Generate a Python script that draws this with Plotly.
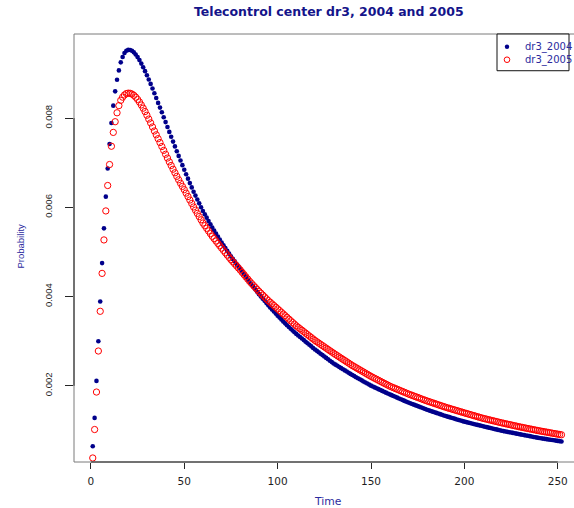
import plotly.graph_objects as go

# Time index (one point per unit of time)
time = list(range(1, 253))

# Probability per time unit, 2004
dr3_2004 = [
    0.000644, 0.00128, 0.00211, 0.00300, 0.00389, 0.00475, 0.00553, 0.00624, 0.00687, 0.00742,
    0.00789, 0.00828, 0.00860, 0.00886, 0.00907, 0.00925, 0.00937, 0.00946, 0.00951, 0.00953,
    0.009528, 0.009509, 0.009475, 0.009428, 0.009368, 0.009301, 0.009223, 0.009142, 0.009053, 0.008962,
    0.008865, 0.008768, 0.008664, 0.008559, 0.008450, 0.008341, 0.008236, 0.008131, 0.008021, 0.007911,
    0.007801, 0.007692, 0.007583, 0.007474, 0.007366, 0.007259, 0.007154, 0.007049, 0.006946, 0.006843,
    0.006743, 0.006643, 0.006544, 0.006447, 0.006351, 0.006264, 0.006177, 0.006090, 0.006004, 0.005917,
    0.005843, 0.005769, 0.005694, 0.005620, 0.005546, 0.005479, 0.005413, 0.005346, 0.005280, 0.005213,
    0.005151, 0.005088, 0.005026, 0.004963, 0.004901, 0.004845, 0.004789, 0.004732, 0.004676, 0.004620,
    0.004561, 0.004502, 0.004443, 0.004384, 0.004325, 0.004271, 0.004217, 0.004162, 0.004108, 0.004054,
    0.004004, 0.003954, 0.003904, 0.003854, 0.003804, 0.003758, 0.003712, 0.003665, 0.003619, 0.003573,
    0.003529, 0.003485, 0.003442, 0.003400, 0.003359, 0.003318, 0.003278, 0.003239, 0.003201, 0.003164,
    0.003129, 0.003094, 0.003059, 0.003024, 0.002989, 0.002954, 0.002919, 0.002884, 0.002849, 0.002814,
    0.002783, 0.002751, 0.002720, 0.002688, 0.002657, 0.002626, 0.002594, 0.002563, 0.002531, 0.002500,
    0.002474, 0.002448, 0.002422, 0.002396, 0.002371, 0.002345, 0.002319, 0.002293, 0.002267, 0.002241,
    0.002217, 0.002193, 0.002170, 0.002146, 0.002122, 0.002098, 0.002074, 0.002051, 0.002027, 0.002003,
    0.001984, 0.001964, 0.001945, 0.001925, 0.001906, 0.001886, 0.001867, 0.001847, 0.001828, 0.001808,
    0.001790, 0.001771, 0.001753, 0.001735, 0.001717, 0.001698, 0.001680, 0.001662, 0.001643, 0.001625,
    0.001609, 0.001593, 0.001577, 0.001561, 0.001545, 0.001528, 0.001512, 0.001496, 0.001480, 0.001464,
    0.001450, 0.001436, 0.001421, 0.001407, 0.001393, 0.001379, 0.001365, 0.001350, 0.001336, 0.001322,
    0.001309, 0.001297, 0.001284, 0.001272, 0.001259, 0.001246, 0.001234, 0.001221, 0.001209, 0.001196,
    0.001186, 0.001175, 0.001165, 0.001155, 0.001145, 0.001134, 0.001124, 0.001114, 0.001103, 0.001093,
    0.001083, 0.001073, 0.001063, 0.001053, 0.001043, 0.001033, 0.001023, 0.001013, 0.001003, 0.000993,
    0.000985, 0.000977, 0.000968, 0.000960, 0.000952, 0.000944, 0.000936, 0.000927, 0.000919, 0.000911,
    0.000903, 0.000895, 0.000887, 0.000879, 0.000871, 0.000862, 0.000854, 0.000846, 0.000838, 0.000830,
    0.000824, 0.000817, 0.000811, 0.000804, 0.000798, 0.000791, 0.000785, 0.000778, 0.000772, 0.000765,
    0.000759, 0.000753,
]

# Probability per time unit, 2005
dr3_2005 = [
    0.000382, 0.00102, 0.00186, 0.00278, 0.00367, 0.00452, 0.00527, 0.00592, 0.00649, 0.00696,
    0.00737, 0.00768, 0.00792, 0.00812, 0.00828, 0.00840, 0.00847, 0.00852, 0.00855, 0.00856,
    0.008557, 0.008540, 0.008511, 0.008470, 0.008420, 0.008361, 0.008295, 0.008223, 0.008147, 0.008065,
    0.007979, 0.007893, 0.007803, 0.007712, 0.007626, 0.007539, 0.007452, 0.007364, 0.007277, 0.007190,
    0.007105, 0.007020, 0.006938, 0.006855, 0.006775, 0.006695, 0.006618, 0.006540, 0.006469, 0.006397,
    0.006319, 0.006242, 0.006164, 0.006087, 0.006009, 0.005937, 0.005865, 0.005793, 0.005721, 0.005649,
    0.005590, 0.005530, 0.005471, 0.005411, 0.005352, 0.005299, 0.005246, 0.005192, 0.005139, 0.005086,
    0.005034, 0.004983, 0.004931, 0.004880, 0.004828, 0.004781, 0.004734, 0.004688, 0.004641, 0.004594,
    0.004543, 0.004493, 0.004442, 0.004392, 0.004341, 0.004296, 0.004251, 0.004207, 0.004162, 0.004117,
    0.004076, 0.004034, 0.003993, 0.003951, 0.003910, 0.003873, 0.003836, 0.003799, 0.003762, 0.003725,
    0.003687, 0.003649, 0.003611, 0.003573, 0.003535, 0.003496, 0.003458, 0.003420, 0.003382, 0.003344,
    0.003311, 0.003278, 0.003246, 0.003213, 0.003180, 0.003147, 0.003114, 0.003082, 0.003049, 0.003016,
    0.002987, 0.002959, 0.002930, 0.002901, 0.002873, 0.002844, 0.002815, 0.002786, 0.002758, 0.002729,
    0.002702, 0.002674, 0.002647, 0.002619, 0.002592, 0.002565, 0.002537, 0.002510, 0.002482, 0.002455,
    0.002431, 0.002406, 0.002382, 0.002357, 0.002333, 0.002309, 0.002284, 0.002260, 0.002235, 0.002211,
    0.002189, 0.002167, 0.002146, 0.002124, 0.002102, 0.002080, 0.002058, 0.002037, 0.002015, 0.001993,
    0.001975, 0.001958, 0.001940, 0.001923, 0.001905, 0.001887, 0.001870, 0.001852, 0.001835, 0.001817,
    0.001801, 0.001786, 0.001770, 0.001754, 0.001739, 0.001723, 0.001707, 0.001691, 0.001676, 0.001660,
    0.001646, 0.001632, 0.001618, 0.001604, 0.001590, 0.001575, 0.001561, 0.001547, 0.001533, 0.001519,
    0.001506, 0.001494, 0.001481, 0.001469, 0.001456, 0.001443, 0.001431, 0.001418, 0.001406, 0.001393,
    0.001381, 0.001369, 0.001356, 0.001344, 0.001332, 0.001320, 0.001308, 0.001295, 0.001283, 0.001271,
    0.001261, 0.001251, 0.001240, 0.001230, 0.001220, 0.001210, 0.001200, 0.001189, 0.001179, 0.001169,
    0.001160, 0.001150, 0.001141, 0.001132, 0.001123, 0.001113, 0.001104, 0.001095, 0.001085, 0.001076,
    0.001068, 0.001059, 0.001051, 0.001042, 0.001034, 0.001026, 0.001017, 0.001009, 0.001000, 0.000992,
    0.000984, 0.000977, 0.000969, 0.000962, 0.000954, 0.000946, 0.000939, 0.000931, 0.000924, 0.000916,
    0.000909, 0.000902,
]

x_ticks = [0, 50, 100, 150, 200, 250]
y_ticks = [0.002, 0.004, 0.006, 0.008]
y_tick_labels = ["0.002", "0.004", "0.006", "0.008"]

series_names = ["dr3_2004", "dr3_2005"]
navy = "#00008B"
red = "#FF0000"
label_blue = "#2b2b9e"
box_grey = "#7a7a7a"
axis_dark = "#262626"

fig = go.Figure()
fig.add_trace(go.Scatter(
    x=time, y=dr3_2004, mode="markers", name=series_names[0],
    marker=dict(symbol="circle", size=4.6, color=navy, line=dict(width=0)),
))
fig.add_trace(go.Scatter(
    x=time, y=dr3_2005, mode="markers", name=series_names[1],
    marker=dict(symbol="circle-open", size=6.3, color=red, line=dict(width=1, color=red)),
))

fig.update_layout(
    width=574, height=508,
    margin=dict(l=74, r=0, t=34, b=46),
    paper_bgcolor="white", plot_bgcolor="white",
    showlegend=False,
    font=dict(family="DejaVu Sans", color="black"),
)

fig.update_xaxes(
    range=[-9.04, 258.7],
    tickvals=x_ticks,
    ticks="outside", ticklen=6, tickwidth=1, tickcolor=axis_dark,
    tickfont=dict(family="DejaVu Sans", size=10.5, color="#1e1e1e"),
    ticklabelstandoff=3,
    showgrid=False, zeroline=False, showline=False,
)
fig.update_yaxes(
    range=[0.000292, 0.009886],
    tickvals=y_ticks, ticktext=y_tick_labels, tickangle=-90,
    ticks="outside", ticklen=8, tickwidth=1, tickcolor=axis_dark,
    tickfont=dict(family="Liberation Sans", size=9.5, color="#1e1e1e"),
    ticklabelstandoff=9,
    showgrid=False, zeroline=False, showline=False,
)

# Plot frame (top, left, bottom) and the darker axis segments between the outer ticks
frame = dict(color=box_grey, width=1)
fig.add_shape(type="line", xref="paper", yref="paper", x0=0, x1=1, y0=1, y1=1, line=frame)
fig.add_shape(type="line", xref="paper", yref="paper", x0=0, x1=0, y0=0, y1=1, line=frame)
fig.add_shape(type="line", xref="paper", yref="paper", x0=0, x1=1, y0=0, y1=0, line=frame)
fig.add_shape(type="line", xref="x", yref="paper", x0=x_ticks[0], x1=x_ticks[-1], y0=0, y1=0,
              line=dict(color=axis_dark, width=1))
fig.add_shape(type="line", xref="paper", yref="y", x0=0, x1=0, y0=y_ticks[0], y1=y_ticks[-1],
              line=dict(color=axis_dark, width=1))

# Legend box in the top-right corner
lx0, lx1, ly0, ly1 = 0.846, 0.99, 0.9142, 1.0
fig.add_shape(type="rect", xref="paper", yref="paper", x0=lx0, x1=lx1, y0=ly0, y1=ly1,
              line=dict(color="#111111", width=1), fillcolor="white")
row_y = [0.9703, 0.9399]
sym_x = 0.866
fig.add_shape(type="circle", xref="paper", yref="paper", xsizemode="pixel", ysizemode="pixel",
              xanchor=sym_x, yanchor=row_y[0], x0=-2.2, x1=2.2, y0=-2.2, y1=2.2,
              fillcolor=navy, line=dict(color=navy, width=0))
fig.add_shape(type="circle", xref="paper", yref="paper", xsizemode="pixel", ysizemode="pixel",
              xanchor=sym_x, yanchor=row_y[1], x0=-2.8, x1=2.8, y0=-2.8, y1=2.8,
              fillcolor="rgba(0,0,0,0)", line=dict(color=red, width=1))
for name, ry in zip(series_names, row_y):
    fig.add_annotation(text=name, xref="paper", yref="paper", x=0.898, y=ry,
                       xanchor="left", yanchor="middle", showarrow=False,
                       font=dict(family="DejaVu Sans", size=10, color=label_blue))

# Title and axis titles
fig.add_annotation(text="<b>Telecontrol center dr3, 2004 and 2005</b>", xref="paper", yref="paper",
                   x=0.51, y=1.0522, xanchor="center", yanchor="middle", showarrow=False,
                   font=dict(family="DejaVu Sans", size=12.5, color="#14148a"))
fig.add_annotation(text="Time", xref="paper", yref="paper", x=0.508, y=-0.0913,
                   xanchor="center", yanchor="middle", showarrow=False,
                   font=dict(family="DejaVu Sans", size=10.8, color=label_blue))
fig.add_annotation(text="Probability", xref="paper", yref="paper", x=-0.1066, y=0.505,
                   xanchor="center", yanchor="middle", showarrow=False, textangle=-90,
                   font=dict(family="Liberation Sans", size=9.5, color=label_blue))

fig.write_html("out.html")
